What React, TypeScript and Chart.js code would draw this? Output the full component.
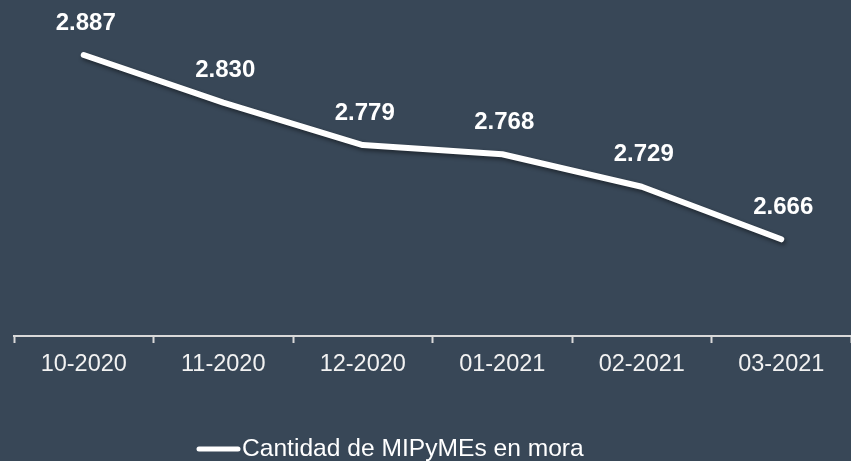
import React, { useEffect, useRef } from "react";
import { Chart, registerables } from "chart.js";

Chart.register(...registerables);

const categories = ["10-2020", "11-2020", "12-2020", "01-2021", "02-2021", "03-2021"];
const values = [2887, 2830, 2779, 2768, 2729, 2666];
const seriesLabel = "Cantidad de MIPyMEs en mora";

const BG = "#384757";
const FONT = "'Liberation Sans', Arial, sans-serif";

const fmt = (v: number) => String(v).replace(/\B(?=(\d{3})+(?!\d))/g, ".");

const bgPlugin = {
  id: "bgFill",
  beforeDraw(chart: any) {
    const { ctx, width, height } = chart;
    ctx.save();
    ctx.fillStyle = BG;
    ctx.fillRect(0, 0, width, height);
    ctx.restore();
  },
};

const shadowPlugin = {
  id: "lineShadow",
  beforeDatasetDraw(chart: any) {
    const ctx = chart.ctx;
    ctx.save();
    ctx.shadowColor = "rgba(0,0,0,0.45)";
    ctx.shadowBlur = 4;
    ctx.shadowOffsetX = 1.5;
    ctx.shadowOffsetY = 2.5;
  },
  afterDatasetDraw(chart: any) {
    chart.ctx.restore();
  },
};

const labelPlugin = {
  id: "valueLabels",
  afterDatasetsDraw(chart: any) {
    const ctx = chart.ctx;
    const meta = chart.getDatasetMeta(0);
    const data = chart.data.datasets[0].data as number[];
    ctx.save();
    ctx.fillStyle = "#ffffff";
    ctx.font = `bold 24px ${FONT}`;
    ctx.textAlign = "center";
    ctx.textBaseline = "middle";
    meta.data.forEach((pt: any, i: number) => {
      ctx.fillText(fmt(data[i]), pt.x + 2, pt.y - 32);
    });
    ctx.restore();
  },
};

const legendPlugin = {
  id: "customLegend",
  afterDraw(chart: any) {
    const ctx = chart.ctx;
    const label = chart.data.datasets[0].label as string;
    const y = 449;
    const x0 = 199;
    const x1 = 238;
    ctx.save();
    ctx.strokeStyle = "#ffffff";
    ctx.lineWidth = 5;
    ctx.lineCap = "round";
    ctx.beginPath();
    ctx.moveTo(x0, y);
    ctx.lineTo(x1, y);
    ctx.stroke();
    ctx.fillStyle = "#ffffff";
    ctx.font = `24.6px ${FONT}`;
    ctx.textAlign = "left";
    ctx.textBaseline = "middle";
    ctx.fillText(label, 242, y);
    ctx.restore();
  },
};

export default function App() {
  const ref = useRef<HTMLCanvasElement | null>(null);

  useEffect(() => {
    if (!ref.current) return;
    const chart = new Chart(ref.current, {
      type: "line",
      data: {
        labels: categories,
        datasets: [
          {
            label: seriesLabel,
            data: values,
            borderColor: "#ffffff",
            backgroundColor: "#ffffff",
            borderWidth: 6,
            borderCapStyle: "round",
            borderJoinStyle: "round",
            pointRadius: 0,
            pointHoverRadius: 0,
            tension: 0,
            fill: false,
          },
        ],
      },
      options: {
        responsive: false,
        animation: false,
        devicePixelRatio: 1,
        layout: { padding: { top: 2.5, left: 14, right: -3, bottom: 0 } },
        plugins: {
          legend: { display: false },
          tooltip: { enabled: false },
        },
        scales: {
          x: {
            type: "category",
            offset: true,
            afterFit(scale: any) {
              scale.height = 125;
            },
            grid: {
              offset: true,
              drawOnChartArea: false,
              drawTicks: true,
              tickLength: 7,
              tickWidth: 2,
              tickColor: "#d9d9d9",
              color: "#d9d9d9",
            },
            border: { display: true, color: "#d9d9d9", width: 2 },
            ticks: {
              color: "#f2f2f2",
              font: { family: FONT, size: 23.5 },
              padding: 7,
              maxRotation: 0,
              autoSkip: false,
            },
          },
          y: {
            display: false,
            min: 2550,
            max: 2950,
          },
        },
      },
      plugins: [bgPlugin, shadowPlugin, labelPlugin, legendPlugin],
    });
    return () => chart.destroy();
  }, []);

  return (
    <div style={{ position: "absolute", left: 0, top: 0, width: 851, height: 461, background: BG }}>
      <canvas ref={ref} width={851} height={461} style={{ display: "block", width: 851, height: 461 }} />
    </div>
  );
}
